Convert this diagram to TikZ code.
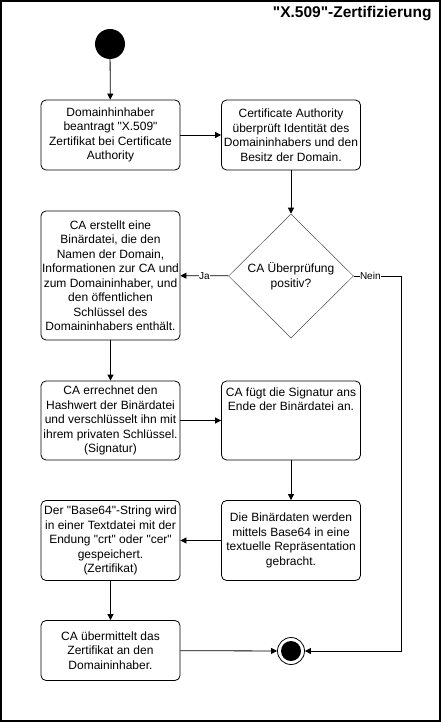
\documentclass[tikz,border=0pt]{standalone}
\usepackage{fontspec}
\setmainfont{Liberation Sans}[Ligatures=TeXOff]
\usetikzlibrary{shapes.geometric,arrows.meta}
\newcommand\qd{"}
\begin{document}
\begin{tikzpicture}[x=1pt,y=-1pt,
  act/.style={draw,rounded corners=5pt,line width=0.8pt,minimum width=139pt,inner sep=0pt,align=center,font=\fontsize{12}{14.5}\selectfont},
  flow/.style={-{Triangle[length=6pt,width=6pt]},line width=0.8pt},
  dec/.style={draw,diamond,aspect=1,minimum width=125pt,minimum height=124pt,inner sep=0pt,align=center,line width=0.5pt,draw=black!70,font=\fontsize{12}{14.5}\selectfont},
  lbl/.style={fill=white,inner sep=0.5pt,font=\fontsize{10}{12}\selectfont}]
\useasboundingbox (0,0) rectangle (441,722);
\draw[line width=1.6pt] (1,1) rectangle (440,721);
\node[anchor=east,font=\bfseries\fontsize{15.5}{18}\selectfont] (title) at (435,14) {\qd X.509\qd-Zertifizierung};
\node[circle,fill=black,minimum size=30pt,inner sep=0pt] (start) at (110,44) {};
\node[act,minimum height=70pt] (b1) at (110.5,135) {Domainhinhaber\\beantragt \qd X.509\qd\\Zertifikat bei Certificate\\Authority};
\node[act,minimum height=70pt] (b2) at (291,135) {Certificate Authority\\überprüft Identität des\\Domaininhabers und den\\Besitz der Domain.};
\node[act,minimum height=129pt] (b3) at (110.5,275.5) {CA erstellt eine\\Binärdatei, die den\\Namen der Domain,\\Informationen zur CA und\\zum Domaininhaber, und\\den öffentlichen\\Schlüssel des\\Domaininhabers enthält.};
\node[dec] (d) at (291,276) {CA Überprüfung\\positiv?};
\node[act,minimum height=79pt] (b4) at (110.5,420.5) {CA errechnet den\\Hashwert der Binärdatei\\und verschlüsselt ihn mit\\ihrem privaten Schlüssel.\\(Signatur)};
\node[act,minimum height=79pt] (b5) at (291,420.5) {};
\node[anchor=north,align=center,font=\fontsize{12}{14.5}\selectfont] (b5t) at (291,384) {CA fügt die Signatur ans\\Ende der Binärdatei an.};
\node[act,minimum height=80pt] (b6) at (291,540.5) {Die Binärdaten werden\\mittels Base64 in eine\\textuelle Repräsentation\\gebracht.};
\node[act,minimum height=80pt] (b7) at (110.5,540.5) {Der \qd Base64\qd-String wird\\in einer Textdatei mit der\\Endung \qd crt\qd{} oder \qd cer\qd\\gespeichert.\\(Zertifikat)};
\node[act,minimum height=60pt] (b8) at (110.5,650.5) {CA übermittelt das\\Zertifikat an den\\Domaininhaber.};
\node[circle,draw,line width=0.8pt,minimum size=27pt,inner sep=0pt] (end) at (291,651) {};
\node[circle,fill=black,minimum size=20pt,inner sep=0pt] (endin) at (end) {};
\coordinate (n1) at (401,276);
\coordinate (n2) at (401,651);
\draw[flow] (start) -- (b1);
\draw[flow] (b1) -- (b2);
\draw[flow] (b2) -- (d);
\draw[flow] (d) -- node[lbl]{Ja} (b3);
\draw[flow] (d.east) -- node[lbl,pos=0.35]{Nein} (n1) -- (n2) -- (end);
\draw[flow] (b3) -- (b4);
\draw[flow] (b4) -- (b5);
\draw[flow] (b5) -- (b6);
\draw[flow] (b6) -- (b7);
\draw[flow] (b7) -- (b8);
\draw[flow] (b8) -- (end);
\end{tikzpicture}
\end{document}
